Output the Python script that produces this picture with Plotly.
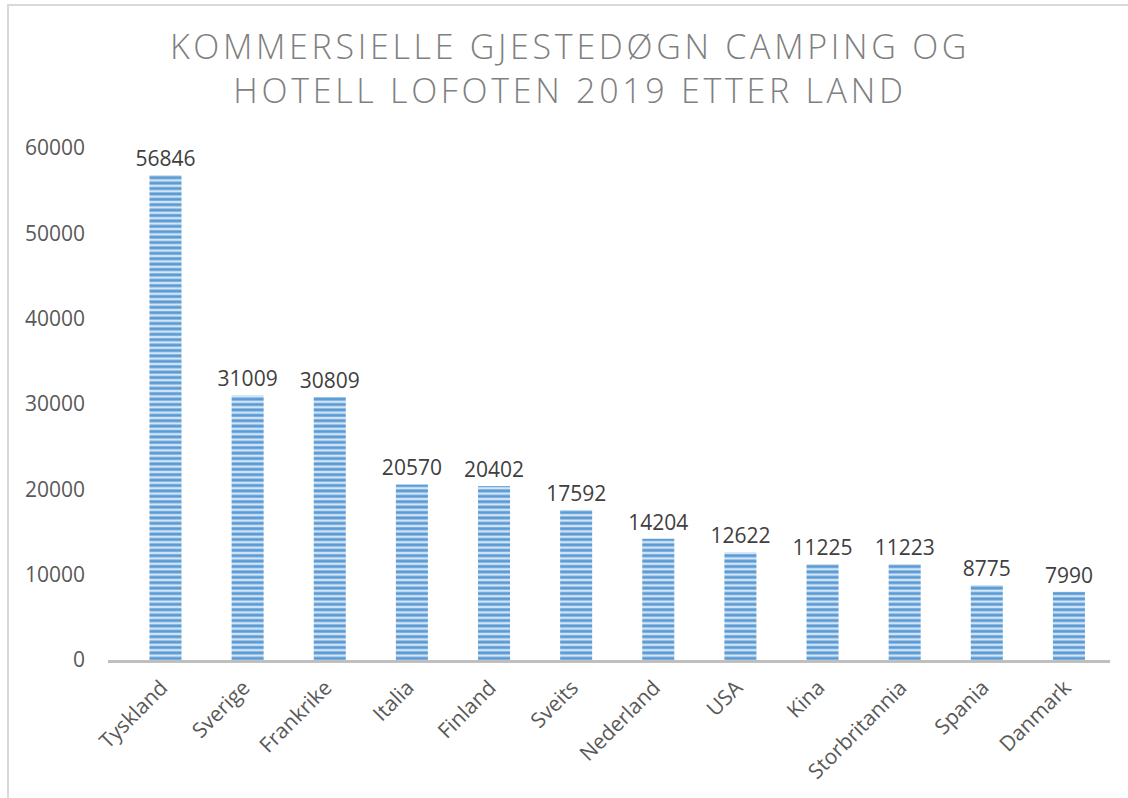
import plotly.graph_objects as go

countries = ["Tyskland", "Sverige", "Frankrike", "Italia", "Finland", "Sveits",
             "Nederland", "USA", "Kina", "Storbritannia", "Spania", "Danmark"]
values = [56846, 31009, 30809, 20570, 20402, 17592, 14204, 12622, 11225, 11223, 8775, 7990]
y_ticks = [0, 10000, 20000, 30000, 40000, 50000, 60000]

W, H = 1128, 798
ML, MR, MT, MB = 108, 18, 148, 138

fig = go.Figure()
fig.add_trace(go.Bar(
    x=countries, y=values,
    text=[str(v) for v in values], textposition="outside",
    constraintext="none",
    textfont=dict(family="Open Sans", size=21, color="#404040"),
    cliponaxis=False,
    marker=dict(
        color="#d3e4f4",
        line=dict(width=0),
        pattern=dict(shape="-", fgcolor="#5b9bd5", bgcolor="#d3e4f4",
                     size=5.4, solidity=0.55, fillmode="replace"),
    ),
    width=0.39,
))

title = ('<span style="letter-spacing:3.7px">KOMMERSIELLE GJESTEDØGN CAMPING OG'
         '<br>HOTELL LOFOTEN 2019 ETTER LAND</span>')
fig.update_layout(
    width=W, height=H,
    margin=dict(l=ML, r=MR, t=MT, b=MB, autoexpand=False),
    paper_bgcolor="white", plot_bgcolor="white",
    title=dict(text=title, x=570 / W, xref="container", xanchor="center",
               y=1 - 59 / H, yanchor="middle",
               font=dict(family="Open Sans", size=34, color="#7f7f7f", weight=300)),
    showlegend=False,
    xaxis=dict(range=[-0.7, 11.5], tickangle=-45, automargin=False,
               tickfont=dict(family="Open Sans", size=21, color="#595959"),
               showline=True, linecolor="#bfbfbf", linewidth=3,
               ticks="", showgrid=False, zeroline=False,
               ticklabelshift=-4, ticklabelstandoff=4),
    yaxis=dict(range=[0, 60000], tickvals=y_ticks, ticktext=[str(t) for t in y_ticks],
               automargin=False,
               tickfont=dict(family="Open Sans", size=21, color="#595959"),
               showgrid=False, zeroline=False, showline=False, ticks="",
               ticklabelstandoff=22),
)

# outer chart frame (left and top edges visible)
pw, ph = W - ML - MR, H - MT - MB
def px(x):
    return (x - ML) / pw
def py(y):
    return (H - MB - y) / ph
fig.add_shape(type="line", xref="paper", yref="paper",
              x0=px(8), x1=px(8), y0=py(4), y1=py(800),
              line=dict(color="#d9d9d9", width=2))
fig.add_shape(type="line", xref="paper", yref="paper",
              x0=px(7), x1=px(1130), y0=py(5), y1=py(5),
              line=dict(color="#d9d9d9", width=2))

fig.write_html("out.html", config={"displayModeBar": False},
               post_script="document.body.style.margin='0px';")
